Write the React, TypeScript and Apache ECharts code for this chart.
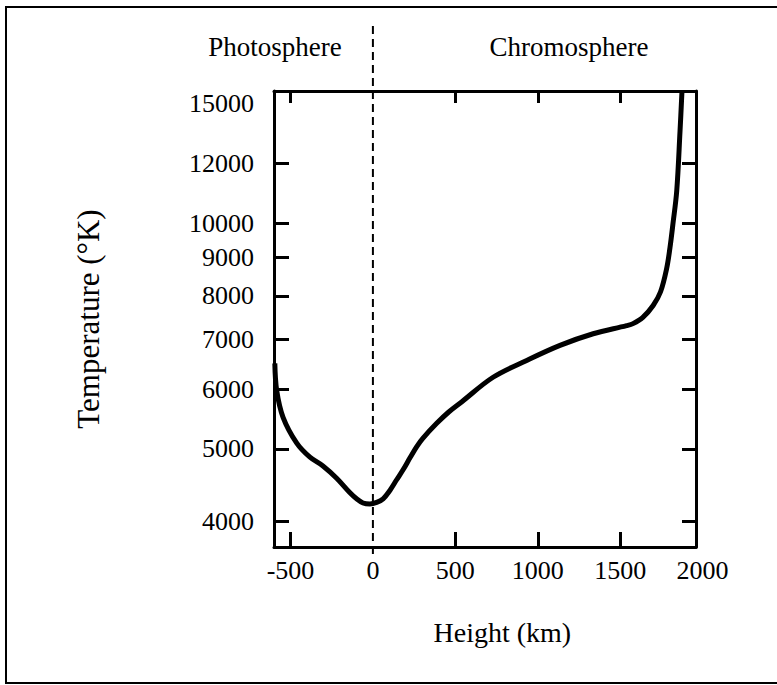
import React, { useEffect, useRef } from "react";
import * as echarts from "echarts";

// Height (km) and temperature (K)
const heights = [-595, -584, -545, -462, -382, -303, -220, -139, -99, -60, -18, 23, 62, 104, 144, 183, 225, 266, 304, 387, 460, 540, 729, 933, 1135, 1336, 1539, 1578, 1636, 1700, 1745, 1782, 1802, 1820, 1843, 1863, 1875];
const temps = [6500, 5990, 5510, 5090, 4875, 4745, 4570, 4370, 4290, 4235, 4222, 4243, 4290, 4405, 4548, 4690, 4865, 5036, 5168, 5408, 5600, 5780, 6230, 6560, 6870, 7120, 7300, 7345, 7480, 7765, 8100, 8700, 9270, 9970, 11030, 13250, 15000];
const tempTicks = [4000, 5000, 6000, 7000, 8000, 9000, 10000, 12000, 15000];
const heightLabels = [-500, 0, 500, 1000, 1500, 2000];
const heightTicks = [-500, 500, 1000, 1500];
const regionLabels = ["Photosphere", "Chromosphere"];
const xName = "Height (km)";
const yName = "Temperature (°K)";

const FONT = '"Liberation Serif", "Times New Roman", serif';
const lg = (v: number) => Math.log10(v);

export default function App() {
  const ref = useRef<HTMLDivElement>(null);
  useEffect(() => {
    if (!ref.current) return;
    const chart = echarts.init(ref.current, null, { renderer: "svg" });
    const yMin = lg(3700);
    const yMax = lg(15000);
    const xMin = -600;
    const xMax = 1960;
    const xLabelMax = 2000;
    const gw = 422;
    const axisLine = { show: true, onZero: false, lineStyle: { color: "#000", width: 3 } };
    const tickStyle = { color: "#000", width: 3 };
    const option: any = {
      animation: false,
      backgroundColor: "#fff",
      grid: [
        { left: 274, top: 91, width: gw, height: 456 },
        { left: 274, top: 91, width: (gw * (xLabelMax - xMin)) / (xMax - xMin), height: 456 },
      ],
      xAxis: [
        {
          type: "value", gridIndex: 0, position: "bottom", min: xMin, max: xMax,
          axisLine, splitLine: { show: false },
          axisTick: { show: true, inside: true, length: 15, customValues: heightTicks, lineStyle: tickStyle },
          axisLabel: { show: false },
        },
        {
          type: "value", gridIndex: 0, position: "top", min: xMin, max: xMax,
          axisLine, splitLine: { show: false },
          axisTick: { show: true, inside: true, length: 12, customValues: heightTicks, lineStyle: tickStyle },
          axisLabel: { show: false },
        },
        {
          type: "value", gridIndex: 1, position: "bottom", min: xMin, max: xLabelMax,
          axisLine: { show: false }, axisTick: { show: false }, splitLine: { show: false },
          axisLabel: {
            show: true, customValues: heightLabels, fontSize: 26, color: "#000", fontFamily: FONT, margin: 10,
            formatter: (v: number) => String(v),
          },
          name: xName, nameLocation: "middle", nameGap: 71,
          nameTextStyle: { fontSize: 28, color: "#000", fontFamily: FONT, padding: [0, 0, 0, 28] },
        },
      ],
      yAxis: [
        {
          type: "value", gridIndex: 0, position: "left", min: yMin, max: yMax,
          axisLine, splitLine: { show: false },
          axisTick: { show: true, inside: true, length: 15, customValues: tempTicks.map(lg), lineStyle: tickStyle },
          axisLabel: {
            show: true, customValues: tempTicks.map(lg), fontSize: 26, color: "#000", fontFamily: FONT, margin: 20,
            formatter: (v: number) => {
              const t = Math.round(Math.pow(10, v));
              return t === 15000 ? `{top|${t}}` : String(t);
            },
            rich: { top: { padding: [24, 0, 0, 0], fontSize: 26, color: "#000", fontFamily: FONT } },
          },
          name: yName, nameLocation: "middle", nameRotate: 90, nameGap: 170,
          nameTextStyle: { fontSize: 31, color: "#000", fontFamily: FONT },
        },
        {
          type: "value", gridIndex: 0, position: "right", min: yMin, max: yMax,
          axisLine, splitLine: { show: false },
          axisTick: { show: true, inside: true, length: 14, customValues: tempTicks.slice(0, -1).map(lg), lineStyle: tickStyle },
          axisLabel: { show: false },
        },
        { type: "value", gridIndex: 1, min: yMin, max: yMax, show: false },
      ],
      series: [
        {
          type: "line", xAxisIndex: 0, yAxisIndex: 0,
          data: heights.map((h, i) => [h, lg(temps[i])]),
          smooth: 0.35, symbol: "none", showSymbol: false, silent: true,
          lineStyle: { color: "#000", width: 5 },
        },
      ],
    };
    chart.setOption(option);
    const px = chart.convertToPixel({ xAxisIndex: 0 }, 0) as number;
    chart.setOption({
      graphic: [
        { id: "frame", type: "rect", shape: { x: 6, y: 7, width: 800, height: 676 }, style: { fill: "none", stroke: "#000", lineWidth: 2 } },
        { id: "t1", type: "text", x: 275, y: 47, style: { text: regionLabels[0], fontSize: 27, fontFamily: FONT, fill: "#000", align: "center", verticalAlign: "middle" } },
        { id: "t2", type: "text", x: 569, y: 47, style: { text: regionLabels[1], fontSize: 27, fontFamily: FONT, fill: "#000", align: "center", verticalAlign: "middle" } },
        { id: "dash", type: "line", shape: { x1: px, y1: 26, x2: px, y2: 556 }, style: { stroke: "#000", lineWidth: 2, lineDash: [8, 5] } },
      ],
    });
    return () => chart.dispose();
  }, []);
  return <div ref={ref} style={{ position: "fixed", left: 0, top: 0, width: 777, height: 685 }} />;
}
